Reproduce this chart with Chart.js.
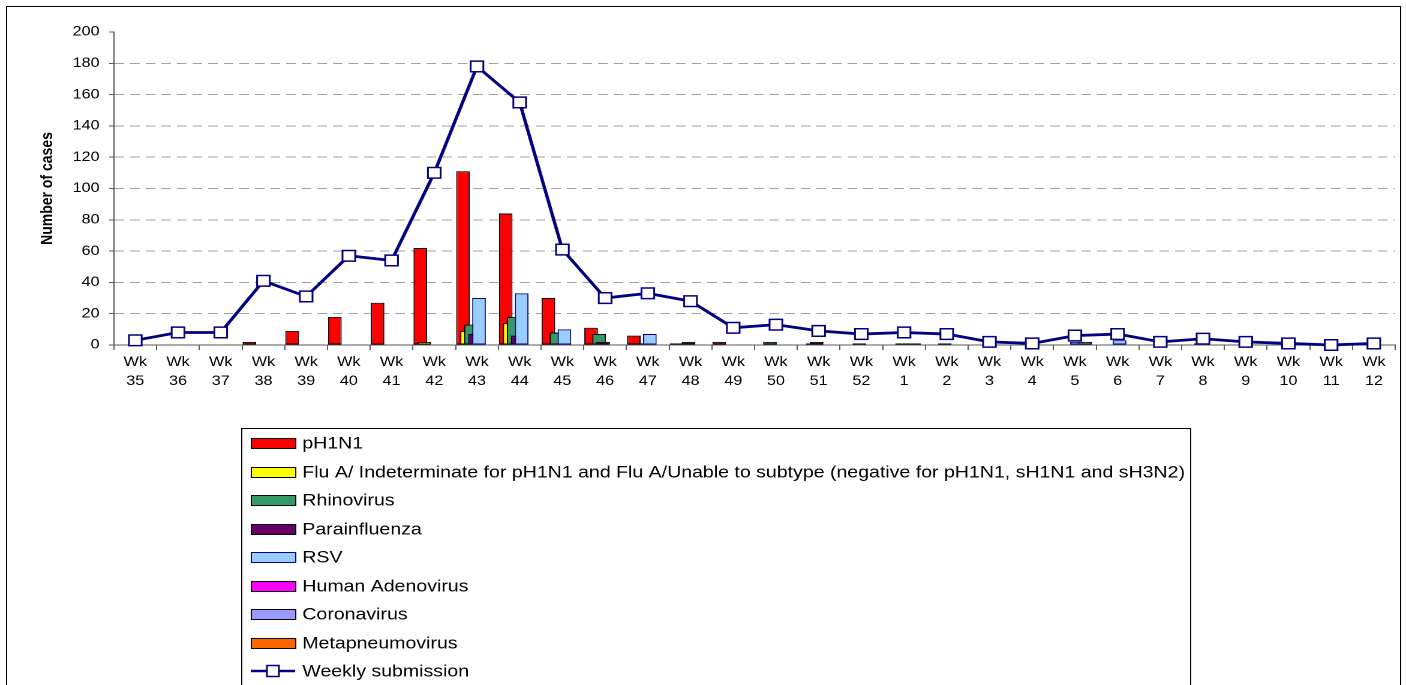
<!DOCTYPE html>
<html>
<head>
<meta charset="utf-8">
<script src="https://cdn.jsdelivr.net/npm/chart.js@4.4.1/dist/chart.umd.min.js"></script>
<style>
  html, body { margin: 0; padding: 0; background: #fff; overflow: hidden; }
  /* the source picture is stretched sideways, so the whole chart is too */
  #wrap { width: 1172px; height: 685px; transform: scaleX(1.19966); transform-origin: 0 0; }
</style>
</head>
<body>
<div id="wrap"><canvas id="myChart"></canvas></div>
<script>
const weeks = [35, 36, 37, 38, 39, 40, 41, 42, 43, 44, 45, 46, 47, 48, 49, 50, 51, 52,
               1, 2, 3, 4, 5, 6, 7, 8, 9, 10, 11, 12];

const pH1N1      = [0, 0, 0, 2, 9, 18, 27, 62, 111, 84, 30, 11, 6, 1, 2, 0, 0, 0, 0, 0, 0, 0, 0, 0, 0, 0, 0, 0, 0, 0];
const fluA       = [0, 0, 0, 0, 0, 0, 0, 2, 9, 14, 1, 0, 0, 0, 0, 0, 0, 0, 0, 0, 0, 0, 0, 0, 0, 0, 0, 0, 0, 0];
const rhino      = [0, 0, 0, 0, 0, 0, 0, 0, 13, 18, 8, 7, 1, 1, 0, 2, 1, 0, 0, 0, 0, 0, 0, 0, 0, 0, 0, 0, 0, 0];
const paraflu    = [0, 0, 0, 0, 0, 0, 0, 0, 7, 6, 0, 2, 1, 2, 0, 0, 2, 1, 1, 1, 0, 0, 0, 0, 0, 1, 0, 0, 0, 0];
const rsv        = [0, 0, 0, 0, 0, 0, 0, 0, 30, 33, 10, 0, 7, 0, 0, 0, 0, 0, 0, 0, 0, 0, 2, 3, 0, 0, 0, 0, 0, 0];
const adeno      = [0, 0, 0, 0, 0, 0, 0, 0, 0, 0, 0, 0, 0, 0, 0, 0, 0, 0, 0, 0, 0, 0, 0, 0, 0, 0, 0, 0, 0, 0];
const corona     = [0, 0, 0, 0, 0, 0, 0, 0, 0, 0, 0, 0, 0, 0, 0, 0, 0, 0, 1, 0, 0, 0, 2, 0, 0, 0, 0, 0, 0, 0];
const metapneumo = [0, 0, 0, 0, 0, 0, 0, 0, 0, 0, 0, 0, 0, 0, 0, 0, 0, 0, 0, 0, 0, 0, 0, 0, 0, 0, 0, 0, 0, 0];
const weekly     = [3, 8, 8, 41, 31, 57, 54, 110, 178, 155, 61, 30, 33, 28, 11, 13, 9, 7, 8, 7, 2, 1, 6, 7, 2, 4, 2, 1, 0, 1];

const yTicks = [0, 20, 40, 60, 80, 100, 120, 140, 160, 180, 200];

const FONT = 'Arial, "Liberation Sans", sans-serif';
Chart.defaults.font.family = FONT;
Chart.defaults.color = '#000';

const ctx = document.getElementById("myChart").getContext("2d");

function barSet(label, data, fill, border) {
    return {
        label, data,
        backgroundColor: fill,
        borderColor: border || '#000',
        borderWidth: 1,
        borderSkipped: false,
        inflateAmount: 0,
        categoryPercentage: 0.75,
        barPercentage: 3.4,
    };
}

const data = {
    labels: weeks.map(w => ['Wk', String(w)]),
    datasets: [
        barSet('pH1N1', pH1N1, '#ff0000'),
        barSet('Flu A/ Indeterminate for pH1N1 and Flu A/Unable to subtype (negative for pH1N1, sH1N1 and sH3N2)', fluA, '#ffff00'),
        barSet('Rhinovirus', rhino, '#339966'),
        barSet('Parainfluenza', paraflu, '#660066'),
        barSet('RSV', rsv, '#99ccff', '#000080'),
        barSet('Human Adenovirus', adeno, '#ff00ff'),
        barSet('Coronavirus', corona, '#9999ff'),
        barSet('Metapneumovirus', metapneumo, '#ff6600'),
        {
            type: 'line',
            label: 'Weekly submission',
            data: weekly,
            borderColor: '#000080',
            borderWidth: 2.8,
            pointStyle: 'rect',
            pointRadius: 7.5,
            pointBorderWidth: 1.5,
            pointBackgroundColor: '#fff',
            pointBorderColor: '#000080',
            tension: 0,
        },
    ],
};

// later series sit on top of earlier ones, like the overlapped Excel bars
const drawOrder = {
    id: 'drawOrder',
    beforeDatasetsDraw(chart) {
        chart.getSortedVisibleDatasetMetas().forEach(meta => meta.controller.draw());
        return false;
    },
};

// outer frame + boxed vertical legend
const boxLegend = {
    id: 'boxLegend',
    afterDraw(chart) {
        const c = chart.ctx;
        c.save();
        c.strokeStyle = '#000';
        c.lineWidth = 1;
        c.strokeRect(5.5, 6.5, 1162, 700);
        c.strokeRect(201.5, 428.5, 791, 300);
        c.font = '16.3px ' + FONT;
        c.textBaseline = 'middle';
        chart.data.datasets.forEach((ds, i) => {
            const y = Math.round(443 + i * 28.5);
            if (ds.type === 'line') {
                c.strokeStyle = ds.borderColor;
                c.lineWidth = 2.5;
                c.beginPath();
                c.moveTo(209, y);
                c.lineTo(246, y);
                c.stroke();
                c.fillStyle = '#fff';
                c.lineWidth = 1.5;
                c.fillRect(222.5, y - 5.5, 10, 11);
                c.strokeRect(222.5, y - 5.5, 10, 11);
            } else {
                c.fillStyle = ds.backgroundColor;
                c.fillRect(209.5, y - 4.5, 37, 10);
                c.strokeStyle = ds.borderColor;
                c.lineWidth = 1;
                c.strokeRect(209.5, y - 4.5, 37, 10);
            }
            c.fillStyle = '#000';
            c.fillText(ds.label, 252, y + 1);
        });
        c.restore();
    },
};

const config = {
    type: 'bar',
    data: data,
    plugins: [drawOrder, boxLegend],
    options: {
        responsive: true,
        maintainAspectRatio: false,
        devicePixelRatio: 2,
        animation: false,
        layout: {
            padding: { left: 8, right: 9, top: 32, bottom: 290 },
        },
        plugins: {
            legend: { display: false },
            tooltip: { enabled: false },
        },
        scales: {
            x: {
                offset: true,
                afterFit: (scale) => { scale.height = 50; },
                grid: {
                    offset: true,
                    drawOnChartArea: false,
                    tickLength: 5,
                    tickColor: '#595959',
                },
                border: { color: '#595959', width: 1 },
                ticks: {
                    autoSkip: false,
                    maxRotation: 0,
                    padding: 3,
                    font: { size: 13.5, lineHeight: 1.4 },
                },
            },
            y: {
                min: 0,
                max: 200,
                afterFit: (scale) => { scale.width = 87; },
                afterBuildTicks: (scale) => { scale.ticks = yTicks.map(v => ({ value: v })); },
                grid: {
                    color: (c) => (c.tick && (c.tick.value === 0 || c.tick.value === 200)) ? 'rgba(0,0,0,0)' : '#a0a0a0',
                    tickLength: 4,
                    tickColor: '#595959',
                    tickBorderDash: [],
                },
                border: { color: '#595959', width: 1, dash: [8, 5] },
                ticks: {
                    padding: 8,
                    font: { size: 13.5 },
                },
                title: {
                    display: true,
                    text: 'Number of cases',
                    font: { size: 14, weight: 'bold' },
                    padding: { top: 23, bottom: 0 },
                },
            },
        },
    },
};

const myChart = new Chart(ctx, config);
</script>
</body>
</html>
